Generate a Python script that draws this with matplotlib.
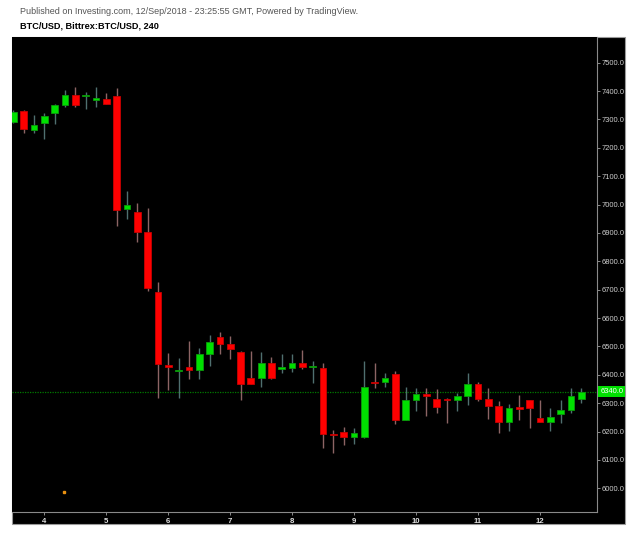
import numpy as np
import pandas as pd
import matplotlib
matplotlib.use('Agg')
import matplotlib.pyplot as plt
import matplotlib.dates as mdates
import matplotlib.transforms as mtransforms
from matplotlib.patches import Rectangle

plt.rcParams['font.family'] = ['Liberation Sans', 'DejaVu Sans']

# 4h candles, Bittrex BTC/USD, 3 Sep 12:00 .. 12 Sep 16:00
times = pd.date_range('2018-09-03 12:00', periods=56, freq='4h')

opens = [7292, 7330, 7263, 7286, 7322, 7352, 7386, 7382, 7370, 7372,
         7383, 6983, 6973, 6904, 6691, 6435, 6413, 6428, 6417, 6473,
         6532, 6507, 6481, 6389, 6388, 6442, 6420, 6425, 6440, 6427,
         6424, 6191, 6199, 6180, 6180, 6374, 6376, 6402, 6240, 6311,
         6332, 6315, 6314, 6311, 6325, 6367, 6313, 6290, 6235, 6283,
         6310, 6248, 6235, 6261, 6276, 6313]
closes = [7327, 7266, 7279, 7313, 7351, 7386, 7352, 7384, 7372, 7354,
          6981, 6999, 6904, 6705, 6437, 6427, 6418, 6418, 6473, 6517,
          6508, 6491, 6368, 6368, 6442, 6388, 6426, 6440, 6426, 6429,
          6190, 6189, 6180, 6194, 6358, 6372, 6389, 6239, 6311, 6331,
          6325, 6287, 6312, 6324, 6366, 6313, 6291, 6235, 6284, 6281,
          6282, 6235, 6252, 6276, 6326, 6340]
highs = [7333, 7333, 7316, 7323, 7354, 7404, 7413, 7396, 7415, 7392,
         7410, 7049, 7004, 6987, 6728, 6477, 6460, 6519, 6493, 6539,
         6550, 6537, 6484, 6485, 6479, 6464, 6472, 6472, 6487, 6448,
         6440, 6205, 6217, 6211, 6448, 6440, 6407, 6413, 6358, 6352,
         6352, 6351, 6317, 6335, 6405, 6373, 6354, 6307, 6297, 6329,
         6312, 6311, 6282, 6311, 6354, 6354]
lows = [7287, 7252, 7252, 7231, 7284, 7345, 7345, 7337, 7345, 7354,
        6924, 6949, 6869, 6695, 6319, 6346, 6317, 6386, 6385, 6432,
        6472, 6455, 6311, 6366, 6358, 6386, 6407, 6411, 6420, 6372,
        6143, 6125, 6152, 6156, 6178, 6354, 6358, 6225, 6240, 6273,
        6256, 6264, 6231, 6273, 6293, 6307, 6243, 6194, 6203, 6240,
        6211, 6234, 6203, 6231, 6264, 6301]

last_price = 6340.0
event_time = pd.Timestamp('2018-09-04 07:30')
event_price = 5988

W, H = 643, 546
fig = plt.figure(figsize=(W / 100, H / 100), dpi=100)

# black chart panel behind everything
fig.patches.append(Rectangle((12 / W, 1 - 524 / H), (625 - 12) / W, (524 - 37) / H,
                             transform=fig.transFigure, facecolor='black',
                             edgecolor='#9a9a9a', linewidth=0.8, zorder=-5))

ax = fig.add_axes([12 / W, 1 - 511.7 / H, (596.7 - 12) / W, (511.7 - 37) / H])
ax.set_zorder(2)
ax.set_facecolor('black')

x = mdates.date2num(times)
o = np.array(opens, float)
c = np.array(closes, float)
h = np.array(highs, float)
l = np.array(lows, float)
up = c >= o
width = 0.108

wick_col = np.where(up, '#4f6f6f', '#8c6464')
ax.vlines(x, l, h, colors=wick_col, linewidth=1.0, zorder=2)

body_bottom = np.minimum(o, c)
body_h = np.maximum(np.abs(c - o), 4)
ax.bar(x[up], body_h[up], width, bottom=body_bottom[up], color='#00e000',
       edgecolor='#0a9a0a', linewidth=0.6, zorder=3)
ax.bar(x[~up], body_h[~up], width, bottom=body_bottom[~up], color='#ff0000',
       edgecolor='#c80000', linewidth=0.6, zorder=3)

# last price line + label
ax.axhline(last_price, color='#007a00', linestyle=(0, (1, 1)), linewidth=0.9, zorder=1)
trans = mtransforms.blended_transform_factory(ax.transAxes, ax.transData)
ax.text(1.006, last_price, f'{last_price:.1f}', transform=trans, ha='left', va='center',
        fontsize=5.4, color='white', clip_on=False, zorder=5,
        bbox=dict(boxstyle='square,pad=0.25', fc='#00e000', ec='none'))

ax.plot(mdates.date2num(event_time), event_price, 's', color='#e89010', markersize=2, zorder=4)

x0 = mdates.date2num(pd.Timestamp('2018-09-04')) - 0.521
x1 = mdates.date2num(pd.Timestamp('2018-09-04')) + 8.915
ax.set_xlim(x0, x1)
ax.set_ylim(5917.5, 7590.6)

ax.yaxis.tick_right()
ax.set_yticks(np.arange(6000, 7501, 100))
ax.yaxis.set_major_formatter(matplotlib.ticker.FormatStrFormatter('%.1f'))
ax.xaxis.set_major_locator(mdates.DayLocator())
ax.xaxis.set_major_formatter(mdates.DateFormatter('%-d'))
ax.tick_params(axis='y', colors='#8a8a8a', labelcolor='#d0d0d0', labelsize=5.4,
               length=2.5, width=0.7, pad=1.2)
ax.tick_params(axis='x', colors='#8a8a8a', labelcolor='#e0e0e0', labelsize=5.6,
               length=2.5, width=0.7, pad=2)
for lab in ax.get_xticklabels():
    lab.set_fontweight('bold')

for side in ['top', 'left']:
    ax.spines[side].set_visible(False)
for side in ['right', 'bottom']:
    ax.spines[side].set_color('#8a8a8a')
    ax.spines[side].set_linewidth(0.8)

fig.text(20 / W, 1 - 11.7 / H,
         'Published on Investing.com, 12/Sep/2018 - 23:25:55 GMT, Powered by TradingView.',
         fontsize=6.5, color='#555555', va='center', ha='left')
fig.text(20 / W, 1 - 26 / H, 'BTC/USD, Bittrex:BTC/USD, 240',
         fontsize=6.6, color='black', fontweight='bold', va='center', ha='left')

fig.savefig('out.png', dpi=100, facecolor='white')
